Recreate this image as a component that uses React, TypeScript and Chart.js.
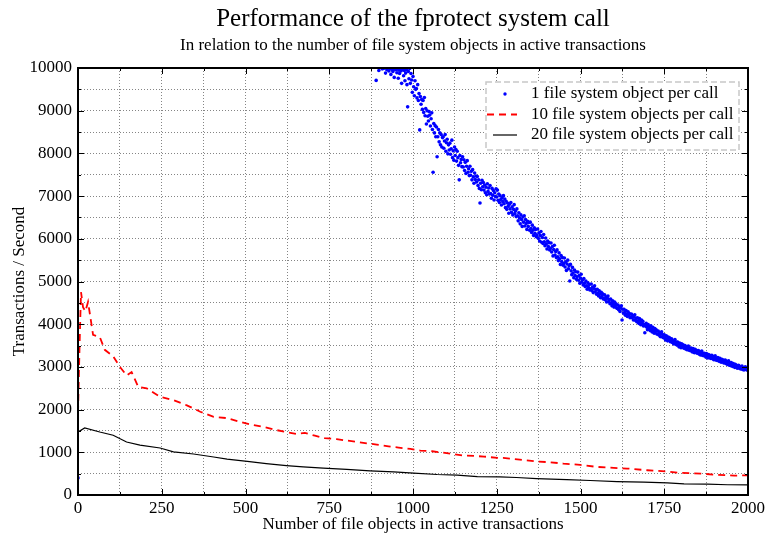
import React, { useEffect, useRef } from "react";
import { Chart, registerables } from "chart.js";

Chart.register(...registerables);

const FONT = "'Liberation Serif', 'Times New Roman', serif";

const titleText = "Performance of the fprotect system call";
const subtitleText = "In relation to the number of file system objects in active transactions";
const xAxisTitle = "Number of file objects in active transactions";
const yAxisTitle = "Transactions / Second";
const seriesLabels = [
  "1 file system object per call",
  "10 file system objects per call",
  "20 file system objects per call",
];

const xMin = 0;
const xMax = 2000;
const xGridStep = 125;
const xLabelStep = 250;
const yMin = 0;
const yMax = 10000;
const yGridStep = 500;
const yLabelStep = 1000;

// Series 1: 1 file system object per call (scatter)
const blueOriginX = [0];
const blueOriginY = [400];
const blueStartX = 890;
const blueStepX = 2;
const blueY: (number | null)[] = [
  9710, null, null, null, 9940, null, null, null, null, 9980,
  null, 9990, null, null, 9880, null, 9960, null, null, 9930,
  9990, null, 9850, 9970, null, 9920, 9990, 9780, null, 9960,
  9980, 9890, 9990, 9760, 9950, 9870, 9990, 9930, 9640, 9960,
  9990, 9820, 9940, 9700, 9880, 9960, 9610, 9090, 9920, 9750,
  9990, 9640, 9870, 9720, 9430, 9800, 9560, 9350, 9700, 9500,
  9520, 9300, 9610, 9240, 9400, 8550, 9330, 9150, 9260, 9030,
  9240, 8960, 9310, 8880, 9050, 8690, 9000, 8870, 8760, 8980,
  8900, 8640, 8810, 8950, 8560, 7560, 8700, 8480, 8650, 8390,
  8620, 7920, 8390, 8560, 8270, 8480, 8200, 8440, 8150, 8370,
  8390, 8120, 8290, 8440, 8050, 8250, 8330, 7990, 8200, 8080,
  8240, 7980, 8110, 8310, 7900, 8060, 7840, 8150, 7950, 8090,
  7820, 8050, 7900, 7720, 7380, 7950, 7780, 7860, 7690, 7920,
  7680, 7850, 7600, 7790, 7530, 7700, 7830, 7560, 7640, 7480,
  7700, 7490, 7580, 7380, 7620, 7450, 7300, 7540, 7390, 7470,
  7330, 7460, 7250, 7380, 7180, 6840, 7300, 7150, 7370, 7220,
  7320, 7140, 7260, 7080, 7210, 7030, 7290, 7110, 7190, 7050,
  7250, 7060, 6950, 7180, 7020, 7130, 6910, 7080, 6990, 7170,
  6980, 7140, 6900, 7050, 6850, 7010, 6920, 6790, 6960, 6870,
  7010, 6820, 6930, 6730, 6880, 6690, 6840, 6760, 6600, 6810,
  6700, 6850, 6620, 6750, 6560, 6690, 6800, 6590, 6650, 6520,
  6700, 6540, 6420, 6610, 6490, 6350, 6560, 6450, 6290, 6510,
  6390, 6540, 6300, 6450, 6360, 6220, 6410, 6290, 6380, 6200,
  6390, 6240, 6150, 6320, 6200, 6080, 6260, 6130, 6220, 6050,
  6090, 6230, 6010, 6140, 5950, 6080, 6170, 5920, 6030, 5890,
  6100, 5930, 5840, 6020, 5880, 5760, 5950, 5820, 5910, 5740,
  5770, 5900, 5690, 5820, 5600, 5750, 5850, 5620, 5700, 5560,
  5740, 5580, 5490, 5670, 5530, 5400, 5610, 5470, 5560, 5380,
  5420, 5550, 5340, 5460, 5260, 5410, 5500, 5300, 5370, 5010,
  5400, 5250, 5160, 5330, 5200, 5090, 5270, 5140, 5230, 5050,
  5110, 5220, 5030, 5140, 4960, 5080, 5170, 4990, 5040, 4920,
  5070, 4960, 4880, 5010, 4900, 4820, 4970, 4860, 4930, 4800,
  4830, 4940, 4790, 4870, 4740, 4840, 4900, 4760, 4810, 4700,
  4820, 4730, 4660, 4780, 4700, 4620, 4750, 4650, 4710, 4590,
  4600, 4690, 4570, 4640, 4520, 4610, 4660, 4530, 4580, 4480,
  4590, 4500, 4430, 4550, 4470, 4400, 4520, 4430, 4480, 4380,
  4370, 4450, 4340, 4410, 4300, 4380, 4430, 4100, 4350, 4260,
  4350, 4270, 4210, 4320, 4240, 4180, 4290, 4210, 4250, 4150,
  4170, 4240, 4150, 4200, 4100, 4170, 4220, 4090, 4140, 4060,
  4150, 4080, 4020, 4130, 4060, 3990, 4100, 4030, 4070, 3960,
  3990, 3800, 3960, 4020, 3930, 3870, 3990, 3900, 3940, 3850,
  3960, 3880, 3820, 3930, 3850, 3790, 3900, 3830, 3870, 3770,
  3770, 3840, 3750, 3800, 3710, 3780, 3820, 3700, 3750, 3680,
  3750, 3680, 3630, 3730, 3660, 3610, 3700, 3640, 3680, 3590,
  3600, 3660, 3570, 3620, 3540, 3600, 3640, 3530, 3580, 3510,
  3580, 3520, 3470, 3560, 3500, 3450, 3540, 3480, 3520, 3440,
  3450, 3500, 3420, 3470, 3400, 3450, 3490, 3390, 3440, 3380,
  3440, 3390, 3350, 3430, 3370, 3330, 3410, 3360, 3390, 3320,
  3330, 3380, 3300, 3350, 3280, 3340, 3370, 3270, 3320, 3260,
  3320, 3270, 3230, 3310, 3250, 3210, 3290, 3240, 3270, 3200,
  3220, 3270, 3190, 3240, 3170, 3230, 3260, 3160, 3210, 3150,
  3220, 3170, 3130, 3200, 3150, 3110, 3180, 3120, 3160, 3090,
  3110, 3160, 3080, 3130, 3060, 3110, 3140, 3040, 3090, 3030,
  3100, 3050, 3010, 3080, 3030, 2990, 3060, 3000, 3040, 2970,
  2990, 3040, 2970, 3010, 2950, 2990, 3020, 2940, 2980, 2930,
  2970, 3000, 2940, 2980, 2920, 2960,
];

// Series 2: 10 file system objects per call (dashed red)
const redX = [
  0, 5, 9, 15, 22, 30, 45, 65, 80, 105, 125, 145, 160, 180, 205, 245, 285, 325,
  365, 405, 445, 485, 522, 552, 587, 622, 652, 677, 707, 737, 772, 802, 832, 862,
  892, 927, 957, 992, 1022, 1057, 1087, 1117, 1147, 1182, 1212, 1252, 1269, 1319,
  1369, 1409, 1449, 1499, 1549, 1599, 1639, 1699, 1759, 1799, 1859, 1909, 1959, 2000,
];
const redY = [
  1920, 3600, 4750, 4400, 4300, 4520, 3750, 3700, 3400, 3250, 3000, 2800, 2880, 2530,
  2500, 2300, 2220, 2100, 1950, 1830, 1800, 1710, 1640, 1600, 1530, 1470, 1430, 1455,
  1390, 1330, 1310, 1275, 1245, 1210, 1180, 1140, 1110, 1080, 1040, 1025, 995, 960,
  925, 915, 900, 870, 869, 830, 783, 768, 736, 705, 658, 635, 620, 580, 550, 518,
  502, 470, 455, 460,
];

// Series 3: 20 file system objects per call (solid black)
const blackX = [
  0, 20, 65, 105, 145, 185, 245, 285, 345, 405, 445, 512, 562, 622, 672, 732, 802,
  872, 942, 1002, 1072, 1132, 1192, 1259, 1309, 1369, 1459, 1529, 1609, 1689, 1759,
  1809, 1879, 1939, 2000,
];
const blackY = [
  1475, 1570, 1475, 1400, 1240, 1170, 1100, 1010, 960, 890, 840, 780, 735, 690, 660,
  630, 600, 565, 540, 510, 480, 465, 430, 424, 410, 385, 362, 340, 315, 300, 284,
  260, 253, 240, 237,
];

const BLUE = "#0000ff";
const RED = "#ff0000";
const BLACK = "#000000";

function buildBlue() {
  const pts: { x: number; y: number }[] = [];
  blueOriginX.forEach((x, i) => pts.push({ x, y: blueOriginY[i] }));
  blueY.forEach((y, i) => {
    if (y !== null) pts.push({ x: blueStartX + i * blueStepX, y });
  });
  return pts;
}

const titlePlugin = {
  id: "gnuTitles",
  afterDraw(chart: any) {
    const { ctx, chartArea } = chart;
    const cx = (chartArea.left + chartArea.right) / 2;
    ctx.save();
    ctx.fillStyle = "#000";
    ctx.textAlign = "center";
    ctx.textBaseline = "middle";
    ctx.font = `25px ${FONT}`;
    ctx.fillText(titleText, cx, 19);
    ctx.font = `17px ${FONT}`;
    ctx.fillText(subtitleText, cx, 46);
    ctx.restore();
  },
};

const framePlugin = {
  id: "gnuFrame",
  afterDatasetsDraw(chart: any) {
    const { ctx, chartArea } = chart;
    const xs = chart.scales.x;
    const ys = chart.scales.y;
    ctx.save();
    ctx.strokeStyle = "#000";
    ctx.lineWidth = 1;
    ctx.beginPath();
    for (let v = xMin; v <= xMax; v += xGridStep) {
      const p = Math.round(xs.getPixelForValue(v)) + 0.5;
      const len = v % xLabelStep === 0 ? 6 : 3;
      ctx.moveTo(p, chartArea.bottom);
      ctx.lineTo(p, chartArea.bottom - len);
      ctx.moveTo(p, chartArea.top);
      ctx.lineTo(p, chartArea.top + len);
    }
    for (let v = yMin; v <= yMax; v += yGridStep) {
      const p = Math.round(ys.getPixelForValue(v)) + 0.5;
      const len = v % yLabelStep === 0 ? 6 : 3;
      ctx.moveTo(chartArea.left, p);
      ctx.lineTo(chartArea.left + len, p);
      ctx.moveTo(chartArea.right, p);
      ctx.lineTo(chartArea.right - len, p);
    }
    ctx.stroke();
    ctx.lineWidth = 2;
    ctx.strokeRect(
      Math.round(chartArea.left),
      Math.round(chartArea.top),
      Math.round(chartArea.right - chartArea.left),
      Math.round(chartArea.bottom - chartArea.top)
    );
    ctx.restore();
  },
};

const legendPlugin = {
  id: "gnuLegend",
  afterDraw(chart: any) {
    const { ctx, chartArea } = chart;
    const lx = chartArea.right - 262;
    const ly = chartArea.top + 14;
    const lw = 253;
    const lh = 68;
    ctx.save();
    ctx.fillStyle = "#ffffff";
    ctx.fillRect(lx, ly, lw, lh);
    ctx.strokeStyle = "#c8c8c8";
    ctx.lineWidth = 1.5;
    ctx.setLineDash([6, 3]);
    ctx.strokeRect(lx, ly, lw, lh);
    ctx.setLineDash([]);

    const rows = [ly + 12, ly + 32.5, ly + 53];
    ctx.fillStyle = BLUE;
    ctx.beginPath();
    ctx.arc(lx + 19, rows[0], 1.7, 0, Math.PI * 2);
    ctx.fill();
    ctx.strokeStyle = RED;
    ctx.lineWidth = 1.8;
    ctx.setLineDash([7, 5]);
    ctx.beginPath();
    ctx.moveTo(lx + 1, rows[1]);
    ctx.lineTo(lx + 31, rows[1]);
    ctx.stroke();
    ctx.setLineDash([]);
    ctx.strokeStyle = BLACK;
    ctx.lineWidth = 1.2;
    ctx.beginPath();
    ctx.moveTo(lx + 7, rows[2]);
    ctx.lineTo(lx + 31, rows[2]);
    ctx.stroke();

    ctx.fillStyle = "#000";
    ctx.font = `17px ${FONT}`;
    ctx.textAlign = "left";
    ctx.textBaseline = "middle";
    seriesLabels.forEach((t, i) => ctx.fillText(t, lx + 45, rows[i]));
    ctx.restore();
  },
};

export default function App() {
  const canvasRef = useRef<HTMLCanvasElement | null>(null);

  useEffect(() => {
    if (!canvasRef.current) return;
    const tickFont = { family: FONT, size: 17 };
    const chart = new Chart(canvasRef.current, {
      type: "scatter",
      data: {
        datasets: [
          {
            label: seriesLabels[0],
            data: buildBlue(),
            showLine: false,
            pointRadius: 1.8,
            pointHoverRadius: 1.8,
            pointBorderWidth: 0,
            pointBackgroundColor: BLUE,
            backgroundColor: BLUE,
            borderColor: BLUE,
          },
          {
            label: seriesLabels[1],
            data: redX.map((x, i) => ({ x, y: redY[i] })),
            showLine: true,
            borderColor: RED,
            backgroundColor: RED,
            borderWidth: 1.8,
            borderDash: [7, 5],
            pointRadius: 0,
            tension: 0,
            fill: false,
          },
          {
            label: seriesLabels[2],
            data: blackX.map((x, i) => ({ x, y: blackY[i] })),
            showLine: true,
            borderColor: BLACK,
            backgroundColor: BLACK,
            borderWidth: 1.2,
            pointRadius: 0,
            tension: 0,
            fill: false,
          },
        ],
      },
      options: {
        animation: false,
        responsive: false,
        devicePixelRatio: 1,
        layout: { padding: { left: 8, right: 18, top: 68, bottom: 0 } },
        plugins: {
          legend: { display: false },
          tooltip: { enabled: false },
          title: { display: false },
        },
        scales: {
          x: {
            type: "linear",
            min: xMin,
            max: xMax,
            ticks: {
              stepSize: xGridStep,
              autoSkip: false,
              maxRotation: 0,
              color: "#000",
              font: tickFont,
              padding: 3,
              callback: (v: any) => (Number(v) % xLabelStep === 0 ? String(v) : ""),
            },
            grid: { color: "rgba(120,120,120,0.9)", lineWidth: 1, drawTicks: false },
            border: { display: false, dash: [1, 2] },
            title: {
              display: true,
              text: xAxisTitle,
              color: "#000",
              font: tickFont,
              padding: { top: 0, bottom: 0 },
            },
            afterFit: (s: any) => {
              s.height = 40;
              s.paddingLeft = 0;
              s.paddingRight = 0;
            },
          },
          y: {
            type: "linear",
            min: yMin,
            max: yMax,
            ticks: {
              stepSize: yGridStep,
              autoSkip: false,
              color: "#000",
              font: tickFont,
              padding: 6,
              callback: (v: any) => (Number(v) % yLabelStep === 0 ? String(v) : ""),
            },
            grid: { color: "rgba(120,120,120,0.9)", lineWidth: 1, drawTicks: false },
            border: { display: false, dash: [1, 2] },
            title: {
              display: true,
              text: yAxisTitle,
              color: "#000",
              font: tickFont,
              padding: { top: 1, bottom: 0 },
            },
            afterFit: (s: any) => {
              s.width = 70;
            },
          },
        },
      },
      plugins: [titlePlugin, framePlugin, legendPlugin],
    });
    return () => chart.destroy();
  }, []);

  return (
    <div style={{ position: "absolute", left: 0, top: 0, width: 766, height: 535, background: "#fff" }}>
      <canvas ref={canvasRef} width={766} height={535} style={{ display: "block" }} />
    </div>
  );
}
